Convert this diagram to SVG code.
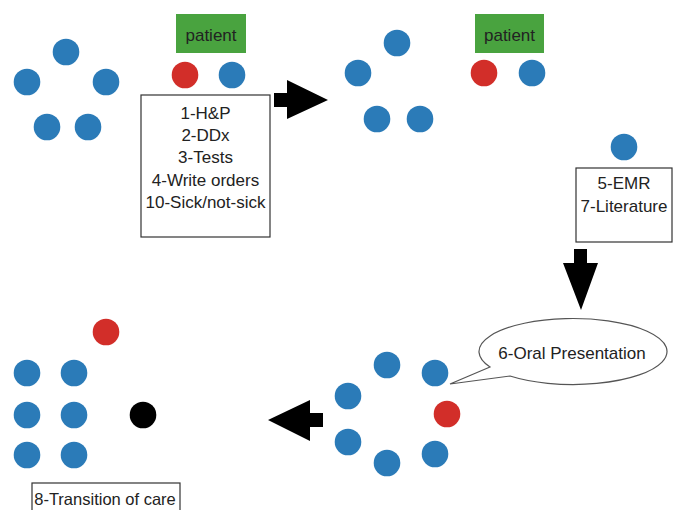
<svg xmlns="http://www.w3.org/2000/svg" width="678" height="510" viewBox="0 0 678 510">
<style>
text{font-family:"Liberation Sans",Arial,sans-serif;font-size:17px;fill:#222;text-anchor:middle}
.b{fill:#2b7bb8}
.r{fill:#d22e29}
.k{fill:#000}
.g{fill:#49a33f}
.box{fill:#fff;stroke:#333;stroke-width:1.2}
.arr{fill:#000}
</style>
<rect width="678" height="510" fill="#fff"/>
<g id="team1">
<circle class="b" cx="66" cy="52" r="13.3"/>
<circle class="b" cx="27" cy="82" r="13.3"/>
<circle class="b" cx="106" cy="82" r="13.3"/>
<circle class="b" cx="47" cy="127" r="13.3"/>
<circle class="b" cx="88" cy="127" r="13.3"/>
</g>
<g id="patient1">
<rect class="g" x="176" y="14" width="70" height="39"/>
<text x="211" y="41">patient</text>
<circle class="r" cx="185" cy="75" r="13.3"/>
<circle class="b" cx="232" cy="75" r="13.3"/>
</g>
<g id="tasks1">
<rect class="box" x="141" y="95" width="129" height="142"/>
<text x="205.5" y="119">1-H&amp;P</text>
<text x="205.5" y="141">2-DDx</text>
<text x="205.5" y="163">3-Tests</text>
<text x="205.5" y="185.5">4-Write orders</text>
<text x="205.5" y="208">10-Sick/not-sick</text>
</g>
<g id="team2">
<circle class="b" cx="397" cy="43" r="13.3"/>
<circle class="b" cx="358" cy="73" r="13.3"/>
<circle class="b" cx="377" cy="119" r="13.3"/>
<circle class="b" cx="420" cy="119" r="13.3"/>
</g>
<g id="patient2">
<rect class="g" x="475" y="14" width="69" height="39"/>
<text x="509.5" y="41">patient</text>
<circle class="r" cx="484" cy="73" r="13.3"/>
<circle class="b" cx="532" cy="73" r="13.3"/>
</g>
<g id="member2">
<circle class="b" cx="624" cy="147" r="13.3"/>
</g>
<g id="tasks2">
<rect class="box" x="576" y="168" width="96" height="74"/>
<text x="624" y="189">5-EMR</text>
<text x="624" y="212">7-Literature</text>
</g>
<g id="bubble">
<path d="M490,367 L450,384 L510,376 A94,33 0 1 0 490,367 Z" fill="#fff" stroke="#555" stroke-width="1.2"/>
<text x="572" y="359">6-Oral Presentation</text>
</g>
<g id="team3">
<circle class="b" cx="387" cy="365" r="13.3"/>
<circle class="b" cx="435" cy="373" r="13.3"/>
<circle class="b" cx="348" cy="396" r="13.3"/>
<circle class="r" cx="447" cy="414" r="13.3"/>
<circle class="b" cx="348" cy="442" r="13.3"/>
<circle class="b" cx="387" cy="463" r="13.3"/>
<circle class="b" cx="435" cy="454" r="13.3"/>
</g>
<g id="team4">
<circle class="r" cx="106" cy="332" r="13.3"/>
<circle class="b" cx="27" cy="373" r="13.3"/>
<circle class="b" cx="74" cy="373" r="13.3"/>
<circle class="b" cx="27" cy="415" r="13.3"/>
<circle class="b" cx="74" cy="415" r="13.3"/>
<circle class="b" cx="27" cy="455" r="13.3"/>
<circle class="b" cx="74" cy="455" r="13.3"/>
<circle class="k" cx="143" cy="415" r="13.3"/>
</g>
<g id="transition">
<rect class="box" x="32" y="483" width="148" height="32"/>
<text x="105" y="505" style="font-size:16.5px">8-Transition of care</text>
</g>
<g id="connectors">
<path class="arr" d="M274,93 H287 V80 L328,100 L287,119 V107 H274 Z"/>
<path class="arr" d="M574,249 H587 V263 H598 L581,310 L563,263 H574 Z"/>
<path class="arr" d="M323,413 H310 V400 L268,420 L310,441 V427 H323 Z"/>
</g>
</svg>
